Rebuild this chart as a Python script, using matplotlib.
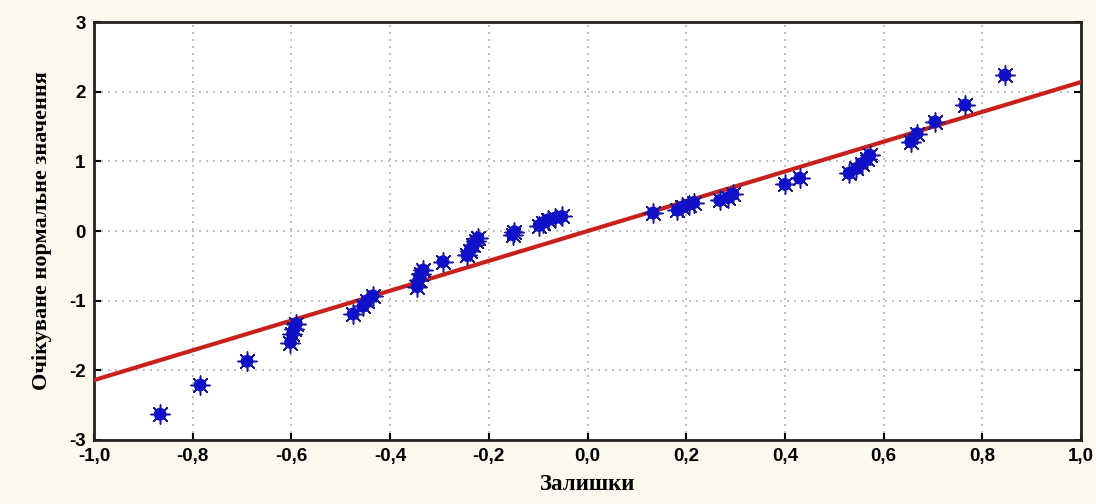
import numpy as np
import matplotlib
matplotlib.use("Agg")
import matplotlib.pyplot as plt
from matplotlib.ticker import FuncFormatter, MultipleLocator

# залишки та очікувані нормальні значення
resid = [-0.866, -0.785, -0.69,
         -0.602, -0.598, -0.594, -0.590,
         -0.475, -0.455, -0.447, -0.435,
         -0.345, -0.342, -0.338, -0.333, -0.293,
         -0.244, -0.238, -0.232, -0.226, -0.222,
         -0.152, -0.148,
         -0.098, -0.090, -0.080, -0.065, -0.052,
         0.133, 0.182, 0.192, 0.205, 0.215,
         0.268, 0.285, 0.295,
         0.400, 0.430,
         0.530, 0.545, 0.556, 0.566, 0.572,
         0.655, 0.668, 0.704, 0.765, 0.846]
expected = [-2.63, -2.21, -1.87,
            -1.60, -1.48, -1.40, -1.33,
            -1.19, -1.08, -1.00, -0.93,
            -0.80, -0.70, -0.62, -0.56, -0.44,
            -0.35, -0.28, -0.20, -0.14, -0.10,
            -0.05, -0.01,
            0.08, 0.12, 0.16, 0.19, 0.21,
            0.26, 0.30, 0.34, 0.38, 0.41,
            0.44, 0.48, 0.53,
            0.67, 0.76,
            0.83, 0.90, 0.97, 1.03, 1.09,
            1.28, 1.40, 1.57, 1.81, 2.24]

# пряма нормального розподілу
line_x = [-1.0, 1.0]
line_y = [-2.14, 2.14]

fig = plt.figure(figsize=(10.96, 5.04), dpi=100, facecolor="#fbf8ed")
ax = fig.add_axes([0.0858, 0.127, 0.9005, 0.829])
ax.set_facecolor("white")

ax.plot(line_x, line_y, color="#c8201c", lw=3, zorder=3)
ax.scatter(resid, expected, s=190, marker=(8, 2, 0), color="#1a1a90",
           linewidths=1.1, zorder=4)
ax.scatter(resid, expected, s=85, marker="o", color="#1010c8",
           edgecolors="none", zorder=5)

ax.set_xlim(-1.0, 1.0)
ax.set_ylim(-3, 3)
ax.xaxis.set_major_locator(MultipleLocator(0.2))
ax.yaxis.set_major_locator(MultipleLocator(1))
ax.xaxis.set_major_formatter(FuncFormatter(lambda v, p: f"{v:.1f}".replace(".", ",").replace("-0,0", "0,0")))
ax.yaxis.set_major_formatter(FuncFormatter(lambda v, p: f"{v:.0f}"))

ax.grid(True, color="#b4b4b4", ls=(0, (1.2, 3)), lw=1.2)
ax.tick_params(direction="in", length=5, width=1.5, right=True, top=False,
               labelsize=13.5, pad=6)
for lab in ax.get_xticklabels() + ax.get_yticklabels():
    lab.set_fontfamily("Liberation Sans")
    lab.set_fontweight("bold")
for sp in ax.spines.values():
    sp.set_linewidth(2)
    sp.set_color("#222222")

ax.set_xlabel("Залишки", fontsize=16.5, fontweight="bold",
              family="Liberation Serif", labelpad=6)
ax.set_ylabel("Очікуване нормальне значення", fontsize=16, fontweight="bold",
              family="Liberation Serif", labelpad=12)

fig.savefig("out.png", dpi=100, facecolor=fig.get_facecolor())
